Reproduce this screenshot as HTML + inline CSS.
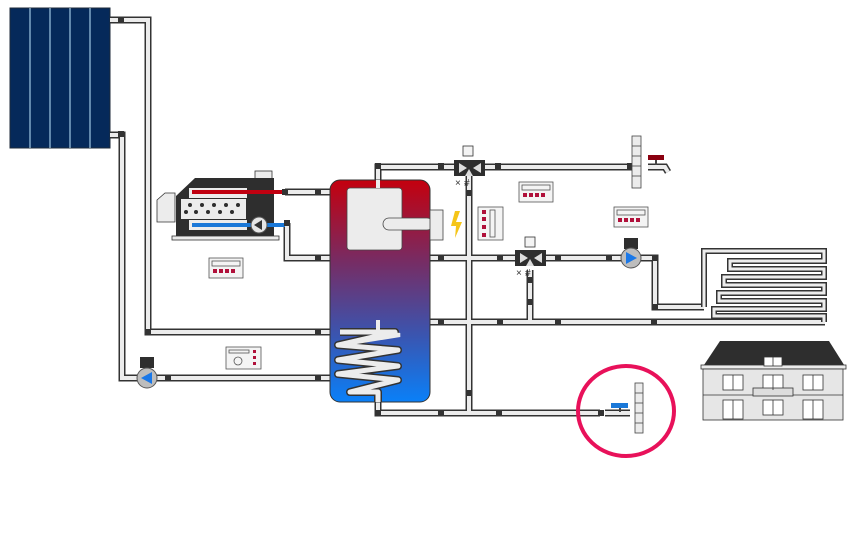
<!DOCTYPE html>
<html><head><meta charset="utf-8"><style>html,body{margin:0;padding:0;background:#fff;width:857px;height:558px;overflow:hidden}</style></head>
<body>
<svg width="857" height="558" viewBox="0 0 857 558" xmlns="http://www.w3.org/2000/svg" font-family="Liberation Sans, sans-serif">
<defs>
<linearGradient id="tg" x1="0" y1="0" x2="0" y2="1">
<stop offset="0" stop-color="#c4000e"/><stop offset="0.35" stop-color="#7a2a60"/><stop offset="0.7" stop-color="#3a55b0"/><stop offset="1" stop-color="#0a80f8"/></linearGradient>
</defs>
<rect x="10" y="8" width="100" height="140" fill="#05295a" stroke="#1d2a3a" stroke-width="1"/>
<g stroke="#bfe8ff" stroke-width="1"><line x1="30" y1="8" x2="30" y2="148"/><line x1="50" y1="8" x2="50" y2="148"/><line x1="70" y1="8" x2="70" y2="148"/><line x1="90" y1="8" x2="90" y2="148"/></g>

<g fill="none" stroke-linejoin="miter" stroke-linecap="butt">
<g stroke="#333" stroke-width="7">
<polyline points="110,20 148,20 148,332 340,332"/>
<polyline points="110,135 122,135 122,378 340,378"/>
<polyline points="285,192 330,192"/>
<polyline points="287,223 287,258 330,258"/>
<polyline points="378,186 378,167 467,167 640,167"/>
<polyline points="378,250 378,340"/>
<polyline points="378,395 378,413 600,413"/>
<polyline points="469,175 469,413"/>
<polyline points="430,258 640,258 655,258 655,307 704,307"/>
<polyline points="530,270 530,322"/>
<polyline points="430,322 825,322"/>
<polyline points="605,413 630,413"/>
<polyline points="648,167 665,167 668,172"/>
</g>
<g stroke="#ececec" stroke-width="4">
<polyline points="110,20 148,20 148,332 340,332"/>
<polyline points="110,135 122,135 122,378 340,378"/>
<polyline points="285,192 330,192"/>
<polyline points="287,223 287,258 330,258"/>
<polyline points="378,186 378,167 467,167 640,167"/>
<polyline points="378,250 378,340"/>
<polyline points="378,395 378,413 600,413"/>
<polyline points="469,175 469,413"/>
<polyline points="430,258 640,258 655,258 655,307 704,307"/>
<polyline points="530,270 530,322"/>
<polyline points="430,322 825,322"/>
<polyline points="605,413 630,413"/>
<polyline points="648,167 665,167 668,172"/>
</g>
</g>

<g fill="none">
<polyline points="704,307 704,251 824,251 824,261 730,261 730,269 824,269 824,277 724,277 724,285 824,285 824,293 719,293 719,301 824,301 824,309 714,309 714,316 824,316 824,322" stroke="#333" stroke-width="6"/>
<polyline points="704,307 704,251 824,251 824,261 730,261 730,269 824,269 824,277 724,277 724,285 824,285 824,293 719,293 719,301 824,301 824,309 714,309 714,316 824,316 824,322" stroke="#ececec" stroke-width="3"/>
</g>

<rect x="330" y="180" width="100" height="222" rx="10" fill="url(#tg)" stroke="#333" stroke-width="1"/>
<rect x="347" y="188" width="55" height="62" rx="3" fill="#ececec" stroke="#444" stroke-width="0.8"/>
<rect x="383" y="218" width="50" height="12" rx="6" fill="#ececec" stroke="#444" stroke-width="0.8"/>
<rect x="430" y="210" width="13" height="30" fill="#ececec" stroke="#444" stroke-width="0.8"/>
<g fill="none">
<polyline points="340,332 395,332 338,345 398,350 338,360 398,366 338,374 398,380 350,392 378,392 378,402" stroke="#333" stroke-width="8" stroke-linejoin="round"/>
<polyline points="340,332 395,332 338,345 398,350 338,360 398,366 338,374 398,380 350,392 378,392 378,402" stroke="#ececec" stroke-width="5" stroke-linejoin="round"/>
<polyline points="378,320 378,332 400,335 338,345" stroke="#ececec" stroke-width="4"/>
</g>
<line x1="378" y1="180" x2="378" y2="188" stroke="#ececec" stroke-width="4"/>

<rect x="255" y="171" width="17" height="8" fill="#ececec" stroke="#333" stroke-width="0.8"/>
<polygon points="176,196 195,178 274,178 274,236 176,236" fill="#2e2e2e"/>
<polygon points="157,200 165,193 175,193 175,222 157,222" fill="#ececec" stroke="#333" stroke-width="0.8"/>
<rect x="172" y="236" width="107" height="4" fill="#ececec" stroke="#333" stroke-width="0.8"/>
<rect x="189" y="188" width="58" height="10" fill="#ececec"/>
<rect x="192" y="190" width="93" height="4" fill="#c00010"/>
<rect x="181" y="199" width="65" height="20" fill="#ececec"/>
<g fill="#2e2e2e"><circle cx="190" cy="205" r="2"/><circle cx="202" cy="205" r="2"/><circle cx="214" cy="205" r="2"/><circle cx="226" cy="205" r="2"/><circle cx="238" cy="205" r="2"/><circle cx="196" cy="212" r="2"/><circle cx="208" cy="212" r="2"/><circle cx="220" cy="212" r="2"/><circle cx="232" cy="212" r="2"/><circle cx="186" cy="212" r="2"/></g>
<rect x="189" y="220" width="58" height="10" fill="#ececec"/>
<rect x="192" y="223" width="93" height="4" fill="#1a78d8"/>
<circle cx="259" cy="225" r="8" fill="#e6e6e6" stroke="#555" stroke-width="1"/>
<polygon points="254,225 262,220 262,230" fill="#333"/>

<g fill="#333">
<rect x="118" y="17" width="6" height="6"/><rect x="118" y="131" width="6" height="6"/>
<rect x="145" y="329" width="6" height="6"/><rect x="315" y="329" width="6" height="6"/>
<rect x="165" y="375" width="6" height="6"/><rect x="315" y="375" width="6" height="6"/>
<rect x="282" y="189" width="6" height="6"/><rect x="315" y="189" width="6" height="6"/>
<rect x="284" y="220" width="6" height="6"/><rect x="315" y="255" width="6" height="6"/>
<rect x="375" y="163" width="6" height="6"/><rect x="438" y="163" width="6" height="6"/><rect x="495" y="163" width="6" height="6"/><rect x="627" y="163" width="6" height="6"/>
<rect x="438" y="255" width="6" height="6"/><rect x="497" y="255" width="6" height="6"/><rect x="555" y="255" width="6" height="6"/><rect x="606" y="255" width="6" height="6"/><rect x="652" y="255" width="6" height="6"/>
<rect x="438" y="319" width="6" height="6"/><rect x="497" y="319" width="6" height="6"/><rect x="555" y="319" width="6" height="6"/><rect x="651" y="319" width="6" height="6"/><rect x="652" y="304" width="6" height="6"/>
<rect x="466" y="190" width="6" height="6"/><rect x="466" y="390" width="6" height="6"/>
<rect x="527" y="277" width="6" height="6"/><rect x="527" y="299" width="6" height="6"/>
<rect x="375" y="410" width="6" height="6"/><rect x="438" y="410" width="6" height="6"/><rect x="496" y="410" width="6" height="6"/><rect x="598" y="410" width="6" height="6"/>
</g>

<g>
<rect x="463" y="146" width="10" height="10" fill="#f4f4f4" stroke="#333" stroke-width="0.8"/>
<rect x="454" y="160" width="31" height="16" fill="#2e2e2e"/>
<polygon points="459,163 467,168 459,173" fill="#ddd"/><polygon points="481,163 473,168 481,173" fill="#ddd"/><polygon points="469,169 465,176 473,176" fill="#ddd"/>
<text x="455" y="186" font-size="10" fill="#333">×</text><text x="464" y="186" font-size="10" fill="#333">#</text>
<rect x="525" y="237" width="10" height="10" fill="#f4f4f4" stroke="#333" stroke-width="0.8"/>
<rect x="515" y="250" width="31" height="16" fill="#2e2e2e"/>
<polygon points="520,253 528,258 520,263" fill="#ddd"/><polygon points="542,253 534,258 542,263" fill="#ddd"/><polygon points="530,259 526,266 534,266" fill="#ddd"/>
<text x="516" y="276" font-size="10" fill="#333">×</text><text x="525" y="276" font-size="10" fill="#333">#</text>
</g>

<rect x="624" y="238" width="14" height="11" fill="#2e2e2e"/>
<circle cx="631" cy="258" r="10" fill="#bdbdbd" stroke="#555"/>
<polygon points="626,252 637,258 626,264" fill="#1a78e8"/>
<rect x="140" y="357" width="14" height="11" fill="#2e2e2e"/>
<circle cx="147" cy="378" r="10" fill="#bdbdbd" stroke="#555"/>
<polygon points="152,372 141,378 152,384" fill="#1a78e8"/>

<g stroke="#555" stroke-width="0.8" fill="#f4f4f4">
<rect x="209" y="258" width="34" height="20"/><rect x="519" y="182" width="34" height="20"/><rect x="614" y="207" width="34" height="20"/>
<rect x="478" y="207" width="25" height="33"/><rect x="226" y="347" width="35" height="22"/>
</g>
<g fill="none" stroke="#555" stroke-width="0.8">
<rect x="212" y="261" width="28" height="5"/><rect x="522" y="185" width="28" height="5"/><rect x="617" y="210" width="28" height="5"/>
<rect x="490" y="210" width="5" height="27"/><rect x="229" y="350" width="20" height="3"/>
<circle cx="238" cy="361" r="4"/>
</g>
<g fill="#b0103a">
<rect x="213" y="269" width="4" height="4"/><rect x="219" y="269" width="4" height="4"/><rect x="225" y="269" width="4" height="4"/><rect x="231" y="269" width="4" height="4"/>
<rect x="523" y="193" width="4" height="4"/><rect x="529" y="193" width="4" height="4"/><rect x="535" y="193" width="4" height="4"/><rect x="541" y="193" width="4" height="4"/>
<rect x="618" y="218" width="4" height="4"/><rect x="624" y="218" width="4" height="4"/><rect x="630" y="218" width="4" height="4"/><rect x="636" y="218" width="4" height="4"/>
<rect x="482" y="210" width="4" height="4"/><rect x="482" y="217" width="4" height="4"/><rect x="482" y="225" width="4" height="4"/><rect x="482" y="233" width="4" height="4"/>
<rect x="253" y="350" width="3" height="3"/><rect x="253" y="356" width="3" height="3"/><rect x="253" y="362" width="3" height="3"/>
</g>

<polygon points="455,211 460,211 456,222 462,222 455,238 456,226 451,226" fill="#f5c518"/>

<rect x="632" y="136" width="9" height="52" fill="#ececec" stroke="#444" stroke-width="0.8"/>
<g stroke="#444" stroke-width="0.8"><line x1="632" y1="146" x2="641" y2="146"/><line x1="632" y1="156" x2="641" y2="156"/><line x1="632" y1="166" x2="641" y2="166"/><line x1="632" y1="176" x2="641" y2="176"/></g>
<rect x="648" y="155" width="16" height="5" fill="#8a0010"/>
<line x1="656" y1="160" x2="656" y2="165" stroke="#444" stroke-width="2"/>

<rect x="635" y="383" width="8" height="50" fill="#ececec" stroke="#444" stroke-width="0.8"/>
<g stroke="#444" stroke-width="0.8"><line x1="635" y1="393" x2="643" y2="393"/><line x1="635" y1="403" x2="643" y2="403"/><line x1="635" y1="413" x2="643" y2="413"/><line x1="635" y1="423" x2="643" y2="423"/></g>
<rect x="611" y="403" width="17" height="5" fill="#1a78d8"/>
<line x1="620" y1="408" x2="620" y2="412" stroke="#444" stroke-width="2"/>
<ellipse cx="626" cy="411" rx="48" ry="45" fill="none" stroke="#e8115a" stroke-width="4"/>

<polygon points="702,368 720,341 829,341 846,368" fill="#2e2e2e"/>
<rect x="701" y="365" width="145" height="4" fill="#ececec" stroke="#333" stroke-width="0.8"/>
<rect x="703" y="369" width="140" height="51" fill="#e6e6e6" stroke="#333" stroke-width="0.8"/>
<line x1="703" y1="395" x2="843" y2="395" stroke="#333" stroke-width="0.8"/>
<g fill="#fff" stroke="#333" stroke-width="0.8">
<rect x="764" y="357" width="18" height="9"/>
<rect x="723" y="375" width="20" height="15"/><rect x="763" y="375" width="20" height="15"/><rect x="803" y="375" width="20" height="15"/>
<rect x="723" y="400" width="20" height="19"/><rect x="763" y="400" width="20" height="15"/><rect x="803" y="400" width="20" height="19"/>
<rect x="753" y="388" width="40" height="8" fill="#ddd"/>
</g>
<g stroke="#333" stroke-width="0.8">
<line x1="773" y1="357" x2="773" y2="366"/>
<line x1="733" y1="375" x2="733" y2="390"/><line x1="773" y1="375" x2="773" y2="390"/><line x1="813" y1="375" x2="813" y2="390"/>
<line x1="733" y1="400" x2="733" y2="419"/><line x1="773" y1="400" x2="773" y2="415"/><line x1="813" y1="400" x2="813" y2="419"/>
</g>
</svg>
</body></html>
